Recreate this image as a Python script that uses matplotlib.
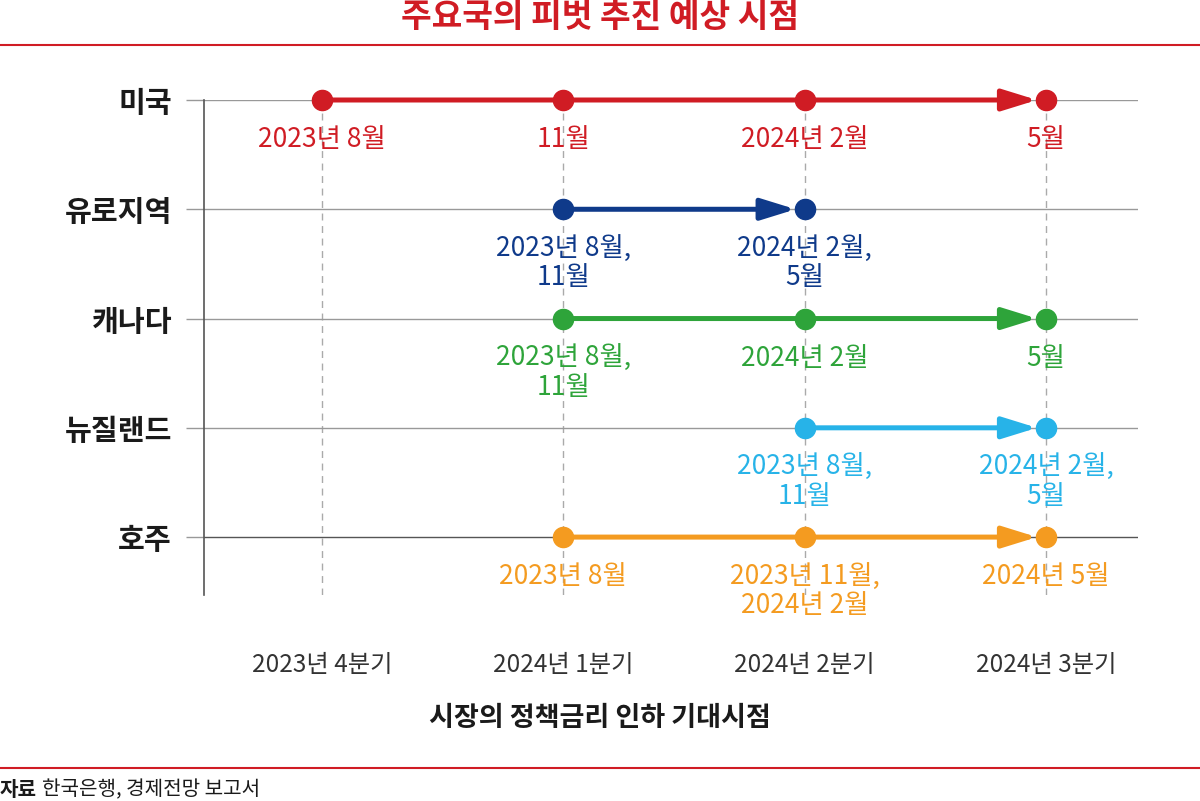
import matplotlib
matplotlib.use("Agg")
import matplotlib.pyplot as plt
from matplotlib.patches import FancyArrowPatch

plt.rcParams["font.family"] = ["Noto Sans CJK KR", "DejaVu Sans"]

# ── 데이터 ─────────────────────────────────
countries = ["미국", "유로지역", "캐나다", "뉴질랜드", "호주"]
quarters = ["2023년 4분기", "2024년 1분기", "2024년 2분기", "2024년 3분기"]

us_pos = [0, 1, 2, 3]
us_labels = ["2023년 8월", "11월", "2024년 2월", "5월"]

euro_pos = [1, 2]
euro_labels = ["2023년 8월,\n11월", "2024년 2월,\n5월"]

canada_pos = [1, 2, 3]
canada_labels = ["2023년 8월,\n11월", "2024년 2월", "5월"]

nz_pos = [2, 3]
nz_labels = ["2023년 8월,\n11월", "2024년 2월,\n5월"]

au_pos = [1, 2, 3]
au_labels = ["2023년 8월", "2023년 11월,\n2024년 2월", "2024년 5월"]

series = [
    (us_pos, us_labels, "#d01c24"),
    (euro_pos, euro_labels, "#0f3a8a"),
    (canada_pos, canada_labels, "#2ea43a"),
    (nz_pos, nz_labels, "#27b3e8"),
    (au_pos, au_labels, "#f49b20"),
]

# ── 그림 ───────────────────────────────────
W, H = 1200, 801
fig = plt.figure(figsize=(12, 8.01), dpi=100)
ax = fig.add_axes([204 / W, 1 - 595 / H, (1138 - 204) / W, (595 - 100) / H])

ax.set_xlim(-0.489, 3.381)
ax.set_ylim(4.53, 0)

for side in ["top", "right", "bottom"]:
    ax.spines[side].set_visible(False)
ax.spines["left"].set_color("#555555")
ax.spines["left"].set_linewidth(1.2)

ax.set_yticks(range(len(countries)))
ax.set_yticklabels(countries, fontsize=21, fontweight="bold", color="#1a1a1a")
ax.tick_params(axis="y", length=13, width=1, color="#999999", pad=10)

ax.set_xticks(range(len(quarters)))
ax.set_xticklabels(quarters, fontsize=17.5, color="#333333")
ax.tick_params(axis="x", length=0, pad=41)

ax.yaxis.grid(True, color="#999999", linewidth=1)
ax.xaxis.grid(True, color="#aaaaaa", linewidth=1, linestyle=(0, (5, 4)))
ax.set_axisbelow(True)
ax.get_ygridlines()[-1].set_color("#555555")

for row, (pos, labels, color) in enumerate(series):
    arrow = FancyArrowPatch((pos[0], row), (pos[-1], row),
                            arrowstyle="-|>,head_length=21,head_width=6.5",
                            mutation_scale=1, color=color, linewidth=3.6,
                            shrinkA=0, shrinkB=6.5, zorder=3, clip_on=False)
    ax.add_patch(arrow)
    ax.plot(pos, [row] * len(pos), "o", color=color, markersize=14.5,
            zorder=4, clip_on=False)
    for x, lab in zip(pos, labels):
        ax.annotate(lab, (x, row), xytext=(0, -19), textcoords="offset points",
                    ha="center", va="top", multialignment="center",
                    fontsize=19, color=color, linespacing=1.08, zorder=5)

# 제목 / 구분선 / 축 제목 / 출처
fig.text(0.5, 1 - 17 / H, "주요국의 피벗 추진 예상 시점", ha="center", va="center",
         fontsize=24, fontweight="bold", color="#d01c24")
fig.add_artist(plt.Line2D([0, 1], [1 - 45 / H] * 2, color="#d01c24", linewidth=1.5))
fig.add_artist(plt.Line2D([0, 1], [1 - 768 / H] * 2, color="#d01c24", linewidth=1.5))
fig.text(0.5, 1 - 718 / H, "시장의 정책금리 인하 기대시점", ha="center", va="center",
         fontsize=19.5, fontweight="bold", color="#1a1a1a")
fig.text(0.0, 1 - 790 / H, "자료", ha="left", va="center",
         fontsize=14.5, fontweight="bold", color="#1a1a1a")
fig.text(42 / W, 1 - 790 / H, "한국은행, 경제전망 보고서", ha="left", va="center",
         fontsize=14.5, color="#1a1a1a")

fig.savefig("out.png", dpi=100)
